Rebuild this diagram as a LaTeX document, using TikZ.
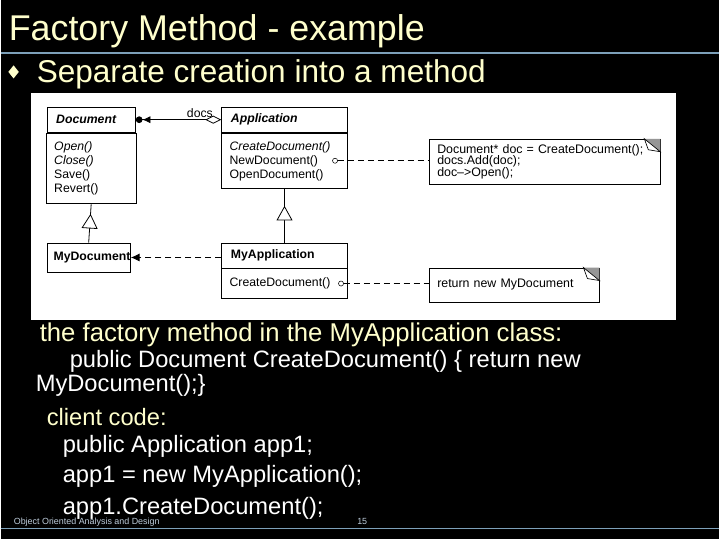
\documentclass[tikz,border=0pt]{standalone}
\usepackage{fontspec}
\setmainfont{Liberation Sans}
\usetikzlibrary{arrows.meta, positioning, shapes.geometric, decorations.markings}

\definecolor{slideyellow}{RGB}{255,255,204}
\definecolor{ruleblue}{RGB}{125,160,185}
\definecolor{footgray}{RGB}{190,205,220}
\definecolor{foldgray}{RGB}{150,150,150}

\begin{document}
\begin{tikzpicture}[
    x=0.75pt, y=-0.75pt,
    slidetext/.style={anchor=base west, inner sep=0, text=white, font=\fontsize{17.8}{13.5}\selectfont},
    classhead/.style={rectangle, draw, line width=0.6pt, fill=white, anchor=north west, minimum height=18.75pt, inner xsep=7pt, inner ysep=0pt, text width=#1, align=left, font=\bfseries\fontsize{9.2}{10.5}\selectfont},
    classops/.style={rectangle, draw, line width=0.6pt, fill=white, minimum height=#1, inner xsep=6pt, inner ysep=0pt, align=left, font=\fontsize{9.2}{10.5}\selectfont},
    notebox/.style={rectangle, draw, line width=0.6pt, fill=white, anchor=north west, inner xsep=6pt, inner ysep=0pt, align=left, font=\fontsize{9.3}{8.7}\selectfont},
    port/.style={circle, draw, fill=white, inner sep=0pt, minimum size=3.8pt},
    dashline/.style={line width=0.6pt, dash pattern=on 4.5pt off 3pt},
    inherit/.style={line width=0.6pt, postaction={decorate}, decoration={markings, mark=at position #1 with {\arrow{Triangle[length=11pt, width=12pt, fill=white, line width=0.6pt]}}}}
]

% 1. Slide background and rules
\fill[black] (0,0) rectangle (720,540);
\draw[ruleblue, line width=0.9pt] (0,53) -- (720,53);
\draw[ruleblue, line width=0.9pt] (0,529) -- (720,529);

% 2. Title and bullet
\node[slidetext, text=slideyellow, font=\fontsize{26.9}{30}\selectfont] (title) at (8,41) {Factory Method - example};
\node[diamond, fill=slideyellow, inner sep=0pt, minimum width=8pt, minimum height=10pt] (bullet) at (13,72) {};
\node[slidetext, text=slideyellow, font=\fontsize{23.7}{28}\selectfont] (subtitle) at (36,83) {Separate creation into a method};

% 3. Diagram panel
\fill[white] (30,93) rectangle (677,321);

% 4. Classes
\node[classhead=52.5pt, font=\bfseries\itshape\fontsize{9.2}{10.5}\selectfont] (doc) at (46,107) {Document};
\node[classops=53.25pt, text width=55.5pt, below=0pt of doc] (docops) {\textit{Open()}\\ \textit{Close()}\\ Save()\\ Revert()};

\node[classhead=80.5pt, font=\bfseries\itshape\fontsize{9.2}{10.5}\selectfont] (app) at (221,107) {Application};
\node[classops=42pt, text width=82.5pt, below=0pt of app] (appops) {\textit{CreateDocument()}\\ NewDocument()\\ OpenDocument()};

\node[classhead=52.75pt, inner xsep=5pt, minimum height=21.75pt] (mydoc) at (46,243) {MyDocument};

\node[classhead=80.5pt] (myapp) at (221,243) {MyApplication};
\node[classops=22.5pt, text width=82.5pt, below=0pt of myapp] (myappops) {CreateDocument()};

% 5. Notes
\node[notebox, text width=161.25pt, minimum height=33.75pt] (note1) at (429,139) {Document* doc = CreateDocument();\\ docs.Add(doc);\\ doc–>Open();};
\node[notebox, text width=115.5pt, minimum height=25.5pt] (note2) at (429,268) {return new MyDocument};

\foreach \n in {note1, note2} {
    \fill[foldgray] (\n.north east) ++(-16,0) -- ++(16,0) -- ++(0,13) -- cycle;
    \filldraw[fill=white, line width=0.5pt] (\n.north east) ++(-16,0) -- ++(16,13) -- ++(-12,-2) -- cycle;
}

% 6. Ports on the operations
\node[port] (newport) at (335,161) {};
\node[port] (createport) at (341,284) {};

% 7. Connections
\draw[line width=0.6pt, {Diamond[open, length=12pt, width=6pt]}-{Latex[length=6pt, width=5.5pt] Circle[length=5pt]}] (app.west) -- node[pos=0.25, above, inner sep=1pt, font=\fontsize{9.2}{10}\selectfont] {docs} (doc.east);
\draw[dashline, -{Latex[length=6.5pt, width=6pt]}] (myapp.west |- mydoc.east) -- (mydoc.east);

\draw[inherit=0.75] (mydoc.north) -- (docops.south);
\draw[inherit=0.69] (myapp.north) -- (appops.south);

\draw[dashline] (newport) -- (newport -| note1.west);
\draw[dashline] (createport) -- (createport -| note2.west);

% 8. Text below the diagram
\node[slidetext, text=slideyellow, font=\fontsize{19.3}{22}\selectfont] (factoryline) at (39,342) {the factory method in the MyApplication class:};
\node[slidetext, align=left] (codeline) at (35,392) {\hspace*{25.5pt}public Document CreateDocument() \{ return new\\MyDocument();\}};
\node[slidetext, text=slideyellow] (clientline) at (46,426) {client code:};
\node[slidetext] (declline) at (62,453) {public Application app1;};
\node[slidetext] (newline) at (62,483) {app1 = new MyApplication();};
\node[slidetext] (callline) at (62,515) {app1.CreateDocument();};

% 9. Footer
\node[slidetext, text=footgray, font=\fontsize{6.7}{8}\selectfont] (footer) at (13,525) {Object Oriented Analysis and Design};
\node[slidetext, text=footgray, font=\fontsize{6.7}{8}\selectfont] (pagenum) at (357,525) {15};

\end{tikzpicture}
\end{document}
